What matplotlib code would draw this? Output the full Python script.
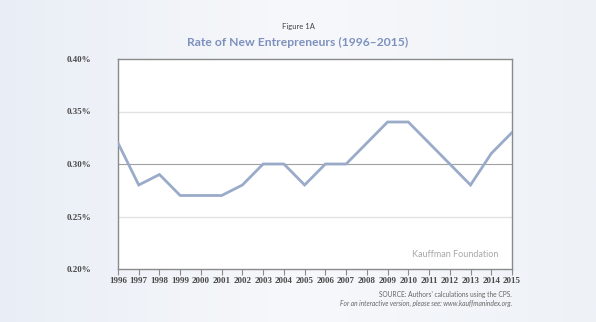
import matplotlib
matplotlib.use("Agg")
import matplotlib.pyplot as plt
import numpy as np
from matplotlib.colors import LinearSegmentedColormap

years = list(range(1996, 2016))
rates = [0.32, 0.28, 0.29, 0.27, 0.27, 0.27, 0.28, 0.30, 0.30, 0.28,
         0.30, 0.30, 0.32, 0.34, 0.34, 0.32, 0.30, 0.28, 0.31, 0.33]
yticks = [0.20, 0.25, 0.30, 0.35, 0.40]
ytick_labels = ["0.20%", "0.25%", "0.30%", "0.35%", "0.40%"]

plt.rcParams['font.family'] = ['Lato', 'DejaVu Sans']

fig = plt.figure(figsize=(5.96, 3.22), dpi=100)
bg = fig.add_axes([0, 0, 1, 1], zorder=-10)
grad = np.linspace(0, 1, 256)[None, :]
cmap = LinearSegmentedColormap.from_list("bg", ["#e9eef6", "#f7f8fb", "#eef2f7"])
bg.imshow(grad, aspect="auto", cmap=cmap, extent=[0, 1, 0, 1])
bg.set_axis_off()

W, H = 596, 322
ax = fig.add_axes([118 / W, 1 - 269 / H, (512 - 118) / W, (269 - 59) / H])
ax.set_facecolor("white")
ax.plot(years, rates, color="#9aabc9", lw=2.0, solid_joinstyle="miter", zorder=3)
ax.set_xlim(1996, 2015)
ax.set_ylim(0.20, 0.40)
ax.set_yticks(yticks)
ax.set_yticklabels(ytick_labels)
ax.set_xticks(years)
ax.set_xticklabels([str(y) for y in years])
for y in [0.25, 0.35]:
    ax.axhline(y, color="#e2e2e2", lw=1, zorder=1)
ax.axhline(0.30, color="#a0a0a0", lw=0.8, zorder=1)
for s in ax.spines.values():
    s.set_color("#8a8a8a")
    s.set_linewidth(1)
ax.tick_params(axis="x", direction="out", length=4, color="#8a8a8a", labelsize=6.5,
               labelcolor="#4a4a4a", pad=2)
ax.tick_params(axis="y", length=0, labelsize=6.5, labelcolor="#4a4a4a", pad=19)
for lbl in ax.get_xticklabels() + ax.get_yticklabels():
    lbl.set_fontweight("bold")
    lbl.set_family(["Liberation Serif"])

ax.text(0.965, 0.07, "Kauffman Foundation", transform=ax.transAxes, ha="right",
        va="center", fontsize=6.5, color="#a8a8a8")

fig.text(0.5, 1 - 27 / H, "Figure 1A", ha="center", va="center", fontsize=5.5, color="#444444")
fig.text(0.5, 1 - 42 / H, "Rate of New Entrepreneurs (1996\u20132015)", ha="center",
         va="center", fontsize=8.7, color="#7d91be", fontweight="bold")
fig.text(512 / W, 1 - 294 / H, "SOURCE: Authors\u2019 calculations using the CPS.", ha="right",
         va="center", fontsize=4.8, color="#666666")
fig.text(512 / W, 1 - 303 / H, "For an interactive version, please see: www.kauffmanindex.org.",
         ha="right", va="center", fontsize=4.8, color="#666666", style="italic")

fig.savefig("out.png", dpi=100)
